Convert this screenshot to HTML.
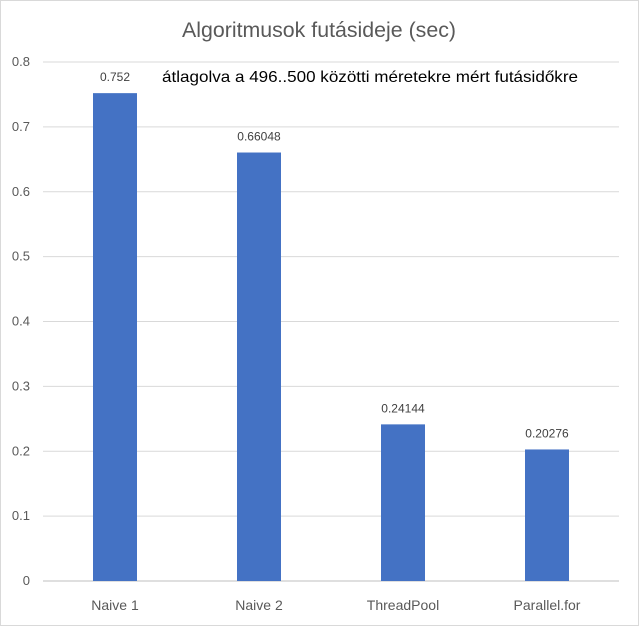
<!DOCTYPE html>
<html><head><meta charset="utf-8"><style>
body{margin:0;background:#fff}
svg{display:block;font-family:"Liberation Sans",sans-serif}
</style></head><body>
<svg id="chart" width="639" height="626">
<rect x="0.5" y="0.5" width="638" height="625" fill="#fff" stroke="#d9d9d9"/>
<text x="182" y="37" font-size="21" fill="#595959" textLength="274" lengthAdjust="spacingAndGlyphs">Algoritmusok futásideje (sec)</text>
<text x="162" y="82" font-size="16" fill="#000" textLength="416" lengthAdjust="spacingAndGlyphs">átlagolva a 496..500 közötti méretekre mért futásidőkre</text>
<g id="grid"></g><g id="bars"></g><g id="labels"></g>
</svg>
<script>
const categories=["Naive 1","Naive 2","ThreadPool","Parallel.for"];
const values=[0.752,0.66048,0.24144,0.20276];
const valueLabels=["0.752","0.66048","0.24144","0.20276"];
const ticks=[0,0.1,0.2,0.3,0.4,0.5,0.6,0.7,0.8];
const ns="http://www.w3.org/2000/svg";
const x0=43,x1=619,y0=581,y1=62,ymax=0.8;
const y=v=>y0-(v/ymax)*(y0-y1);
const band=(x1-x0)/categories.length;
const xc=i=>x0+band*(i+0.5);
function mk(t,a,p){const e=document.createElementNS(ns,t);for(const k in a)e.setAttribute(k,a[k]);document.getElementById(p).appendChild(e);return e;}
ticks.forEach((t,i)=>{
 const l=mk("line",{x1:x0,x2:x1,y1:y(t),y2:y(t),stroke:i===0?"#bfbfbf":"#d9d9d9","stroke-width":1},"grid");
 
 
 const tx=mk("text",{x:30,y:y(t)+4,"text-anchor":"end","font-size":13,fill:"#595959"},"grid");
 tx.textContent=String(t);
 
 
});
categories.forEach((c,i)=>{
 const w=44;
 const r=mk("rect",{x:xc(i)-w/2,y:y(values[i]),width:w,height:y0-y(values[i]),fill:"#4472C4"},"bars");
 
 
 const v=mk("text",{x:xc(i),y:y(values[i])-12,"text-anchor":"middle","font-size":12,fill:"#404040"},"labels");
 v.textContent=valueLabels[i];
 
 
 const cl=mk("text",{x:xc(i),y:610,"text-anchor":"middle","font-size":14,fill:"#595959"},"labels");
 cl.textContent=c;
 
 
});
</script>
</body></html>
